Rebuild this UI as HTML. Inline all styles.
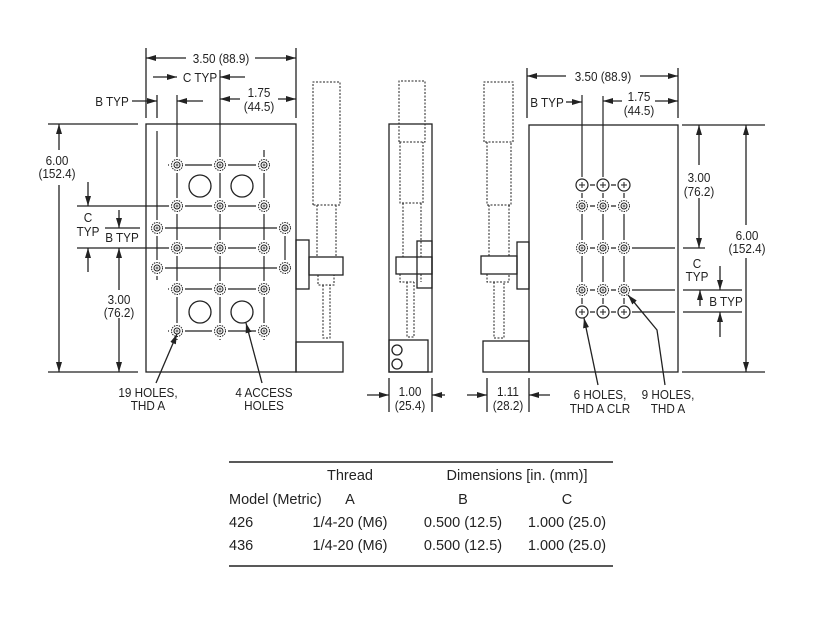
<!DOCTYPE html>
<html><head><meta charset="utf-8"><style>
html,body{margin:0;padding:0;background:#fff;}
svg{display:block;}
text{font-family:"Liberation Sans Narrow","Liberation Sans",sans-serif;font-size:13px;fill:#222;}
.t{font-size:14.5px;}
</style></head><body>
<svg id="s" width="820" height="618" viewBox="0 0 820 618" xmlns="http://www.w3.org/2000/svg">
<defs>
<marker id="a" markerWidth="10" markerHeight="6" refX="10" refY="3" orient="auto" markerUnits="userSpaceOnUse"><path d="M0,0 L10,3 L0,6 z" fill="#222"/></marker>
</defs>
<g stroke="#222" stroke-width="1.3" fill="none">
<g stroke-width="1.2">
<line x1="157" y1="131" x2="157" y2="280"/>
<line x1="177" y1="95" x2="177" y2="340"/>
<line x1="220" y1="70" x2="220" y2="340"/>
<line x1="264" y1="150" x2="264" y2="340"/>
<line x1="285" y1="228" x2="285" y2="268"/>
<line x1="168" y1="165" x2="270" y2="165"/>
<line x1="140" y1="206" x2="270" y2="206"/>
<line x1="150" y1="228" x2="290" y2="228"/>
<line x1="140" y1="248" x2="270" y2="248"/>
<line x1="150" y1="268" x2="290" y2="268"/>
<line x1="168" y1="289" x2="270" y2="289"/>
<line x1="168" y1="331" x2="270" y2="331"/>
</g>
<rect x="146" y="124" width="150" height="248"/>
<circle cx="200" cy="186" r="11"/><circle cx="242" cy="186" r="11"/>
<circle cx="200" cy="312" r="11"/><circle cx="242" cy="312" r="11"/>
<g id="lh"></g>
<rect x="296" y="240" width="13" height="49"/>
<rect x="309" y="257" width="34" height="18"/>
<rect x="296" y="342" width="47" height="30"/>
<g stroke-dasharray="2,1.5" stroke-width="1">
<path d="M313,205 V82 H340 V205 Z"/>
<path d="M317,205 V257 M336,205 V257"/>
<path d="M318,275 V285 H334 V275"/>
<path d="M323,285 V338 H330 V285"/>
</g>
<line x1="146" y1="48" x2="146" y2="118"/><line x1="296" y1="48" x2="296" y2="118"/>
<line x1="186" y1="58" x2="146" y2="58" marker-end="url(#a)"/>
<line x1="255" y1="58" x2="296" y2="58" marker-end="url(#a)"/>
<line x1="153" y1="77" x2="177" y2="77" marker-end="url(#a)"/>
<line x1="245" y1="77" x2="220" y2="77" marker-end="url(#a)"/>
<line x1="157" y1="95" x2="157" y2="118"/>
<line x1="132" y1="101" x2="157" y2="101" marker-end="url(#a)"/>
<line x1="203" y1="101" x2="177" y2="101" marker-end="url(#a)"/>
<line x1="240" y1="99" x2="220" y2="99" marker-end="url(#a)"/>
<line x1="278" y1="99" x2="296" y2="99" marker-end="url(#a)"/>
<line x1="48" y1="124" x2="138" y2="124"/><line x1="48" y1="372" x2="138" y2="372"/>
<line x1="59" y1="150" x2="59" y2="124" marker-end="url(#a)"/>
<line x1="59" y1="185" x2="59" y2="372" marker-end="url(#a)"/>
<line x1="77" y1="206" x2="140" y2="206"/>
<line x1="77" y1="248" x2="140" y2="248"/>
<line x1="105" y1="228" x2="140" y2="228"/>
<line x1="88" y1="182" x2="88" y2="206" marker-end="url(#a)"/>
<line x1="88" y1="272" x2="88" y2="248" marker-end="url(#a)"/>
<line x1="119" y1="210" x2="119" y2="228" marker-end="url(#a)"/>
<line x1="119" y1="290" x2="119" y2="248" marker-end="url(#a)"/>
<line x1="119" y1="318" x2="119" y2="372" marker-end="url(#a)"/>
<line x1="156" y1="383" x2="177" y2="334" marker-end="url(#a)"/>
<line x1="262" y1="383" x2="246" y2="323" marker-end="url(#a)"/>

<rect x="389" y="124" width="43" height="248"/>
<rect x="417" y="241" width="15" height="47"/>
<rect x="396" y="257" width="36" height="17"/>
<rect x="389" y="340" width="39" height="32"/>
<circle cx="397" cy="350" r="5"/><circle cx="397" cy="364" r="5"/>
<g stroke-dasharray="2,1.5" stroke-width="1">
<path d="M399,142 V81 H425 V142 Z"/>
<path d="M400,142 V203 H423 V142"/>
<path d="M403,203 V257 M421,203 V257"/>
<path d="M400,274 V282 H414 M421,274 V282"/>
<path d="M407,282 V337 H414 V282"/>
</g>
<line x1="389" y1="378" x2="389" y2="412"/><line x1="432" y1="378" x2="432" y2="412"/>
<line x1="367" y1="395" x2="389" y2="395" marker-end="url(#a)"/>
<line x1="445" y1="395" x2="432" y2="395" marker-end="url(#a)"/>

<g stroke-width="1.2">
<line x1="582" y1="95" x2="582" y2="312"/>
<line x1="603" y1="96" x2="603" y2="312"/>
<line x1="624" y1="180" x2="624" y2="312"/>
<line x1="575" y1="185" x2="630" y2="185"/>
<line x1="575" y1="206" x2="630" y2="206"/>
<line x1="575" y1="248" x2="675" y2="248"/>
<line x1="575" y1="290" x2="675" y2="290"/>
<line x1="575" y1="312" x2="675" y2="312"/>
</g>
<rect x="529" y="125" width="149" height="247"/>
<rect x="517" y="242" width="12" height="47"/>
<rect x="481" y="256" width="36" height="18"/>
<rect x="483" y="341" width="46" height="31"/>
<g stroke-dasharray="2,1.5" stroke-width="1">
<path d="M484,142 V82 H513 V142 Z"/>
<path d="M487,142 V205 H511 V142"/>
<path d="M489,205 V256 M509,205 V256"/>
<path d="M487,274 V282 H509 V274"/>
<path d="M494,282 V338 H504 V282"/>
</g>
<g id="rh"></g>
<line x1="527" y1="68" x2="527" y2="118"/><line x1="678" y1="68" x2="678" y2="118"/>
<line x1="566" y1="76" x2="527" y2="76" marker-end="url(#a)"/>
<line x1="640" y1="76" x2="678" y2="76" marker-end="url(#a)"/>
<line x1="566" y1="102" x2="582" y2="102" marker-end="url(#a)"/>
<line x1="622" y1="101" x2="603" y2="101" marker-end="url(#a)"/>
<line x1="655" y1="101" x2="678" y2="101" marker-end="url(#a)"/>
<line x1="682" y1="125" x2="765" y2="125"/><line x1="682" y1="372" x2="765" y2="372"/>
<line x1="746" y1="225" x2="746" y2="125" marker-end="url(#a)"/>
<line x1="746" y1="258" x2="746" y2="372" marker-end="url(#a)"/>
<line x1="699" y1="165" x2="699" y2="125" marker-end="url(#a)"/>
<line x1="699" y1="198" x2="699" y2="248" marker-end="url(#a)"/>
<line x1="683" y1="248" x2="705" y2="248"/>
<line x1="683" y1="290" x2="742" y2="290"/>
<line x1="683" y1="312" x2="742" y2="312"/>
<line x1="720" y1="266" x2="720" y2="290" marker-end="url(#a)"/>
<line x1="700" y1="306" x2="700" y2="290" marker-end="url(#a)"/>
<line x1="720" y1="337" x2="720" y2="312" marker-end="url(#a)"/>
<line x1="487" y1="378" x2="487" y2="412"/><line x1="529" y1="378" x2="529" y2="412"/>
<line x1="467" y1="395" x2="487" y2="395" marker-end="url(#a)"/>
<line x1="550" y1="395" x2="529" y2="395" marker-end="url(#a)"/>
<line x1="598" y1="385" x2="584" y2="318" marker-end="url(#a)"/>
<polyline points="665,385 657,330 628,295"/>
<line x1="635" y1="303" x2="628" y2="295" marker-end="url(#a)"/>

<line x1="229" y1="462" x2="613" y2="462" stroke-width="1.5"/>
<line x1="229" y1="566" x2="613" y2="566" stroke-width="1.5"/>
</g>
<g id="dt" fill="#222" text-anchor="middle">
<rect x="188" y="50" width="65" height="16" fill="#fff"/>
<text x="221" y="63">3.50 (88.9)</text>
<text x="200" y="82">C TYP</text>
<text x="112" y="106">B TYP</text>
<text x="259" y="97">1.75</text><text x="259" y="111">(44.5)</text>
<text x="57" y="165">6.00</text><text x="57" y="178">(152.4)</text>
<text x="88" y="222">C</text><text x="88" y="236">TYP</text>
<text x="122" y="242">B TYP</text>
<text x="119" y="304">3.00</text><text x="119" y="317">(76.2)</text>
<text x="148" y="397">19 HOLES,</text><text x="148" y="410">THD A</text>
<text x="264" y="397">4 ACCESS</text><text x="264" y="410">HOLES</text>
<text x="410" y="396">1.00</text><text x="410" y="410">(25.4)</text>
<text x="508" y="396">1.11</text><text x="508" y="410">(28.2)</text>
<text x="603" y="81">3.50 (88.9)</text>
<text x="547" y="107">B TYP</text>
<text x="639" y="101">1.75</text><text x="639" y="115">(44.5)</text>
<text x="699" y="182">3.00</text><text x="699" y="196">(76.2)</text>
<text x="747" y="240">6.00</text><text x="747" y="253">(152.4)</text>
<text x="697" y="268">C</text><text x="697" y="281">TYP</text>
<text x="726" y="306">B TYP</text>
<text x="600" y="399">6 HOLES,</text><text x="600" y="413">THD A CLR</text>
<text x="668" y="399">9 HOLES,</text><text x="668" y="413">THD A</text>
</g>
<g fill="#222" text-anchor="middle">
<text class="t" x="350" y="480">Thread</text>
<text class="t" x="517" y="480">Dimensions [in. (mm)]</text>
<text class="t" x="229" y="504" text-anchor="start">Model (Metric)</text>
<text class="t" x="350" y="504">A</text>
<text class="t" x="463" y="504">B</text>
<text class="t" x="567" y="504">C</text>
<text class="t" x="229" y="527" text-anchor="start">426</text>
<text class="t" x="350" y="527">1/4-20 (M6)</text>
<text class="t" x="463" y="527">0.500 (12.5)</text>
<text class="t" x="567" y="527">1.000 (25.0)</text>
<text class="t" x="229" y="550" text-anchor="start">436</text>
<text class="t" x="350" y="550">1/4-20 (M6)</text>
<text class="t" x="463" y="550">0.500 (12.5)</text>
<text class="t" x="567" y="550">1.000 (25.0)</text>
</g>
</svg>
<script>
var NS="http://www.w3.org/2000/svg";
function el(p,t,a){var e=document.createElementNS(NS,t);for(var k in a)e.setAttribute(k,a[k]);p.appendChild(e);return e;}
function thd(g,x,y){el(g,"circle",{cx:x,cy:y,r:8,fill:"#fff",stroke:"none"});
el(g,"circle",{cx:x,cy:y,r:5.5,fill:"none",stroke:"#222","stroke-width":1,"stroke-dasharray":"1.5,1"});
el(g,"circle",{cx:x,cy:y,r:3,fill:"none",stroke:"#222","stroke-width":1});
el(g,"path",{d:"M"+(x-1.5)+","+y+"h3M"+x+","+(y-1.5)+"v3",stroke:"#222","stroke-width":0.8});}
function clr(g,x,y){el(g,"circle",{cx:x,cy:y,r:8,fill:"#fff",stroke:"none"});
el(g,"circle",{cx:x,cy:y,r:6,fill:"none",stroke:"#222","stroke-width":1.2});
el(g,"path",{d:"M"+(x-3)+","+y+"h6M"+x+","+(y-3)+"v6",stroke:"#222","stroke-width":1});}
var lh=document.getElementById("lh");
[165,206,248,289,331].forEach(function(y){[177,220,264].forEach(function(x){thd(lh,x,y);});});
[228,268].forEach(function(y){thd(lh,157,y);thd(lh,285,y);});
var rh=document.getElementById("rh");
[582,603,624].forEach(function(x){clr(rh,x,185);clr(rh,x,312);[206,248,290].forEach(function(y){thd(rh,x,y);});});
document.querySelectorAll("#dt text").forEach(function(t){var w=t.getComputedTextLength();t.setAttribute("textLength",(w*0.9).toFixed(1));t.setAttribute("lengthAdjust","spacingAndGlyphs");});
</script>
</body></html>
